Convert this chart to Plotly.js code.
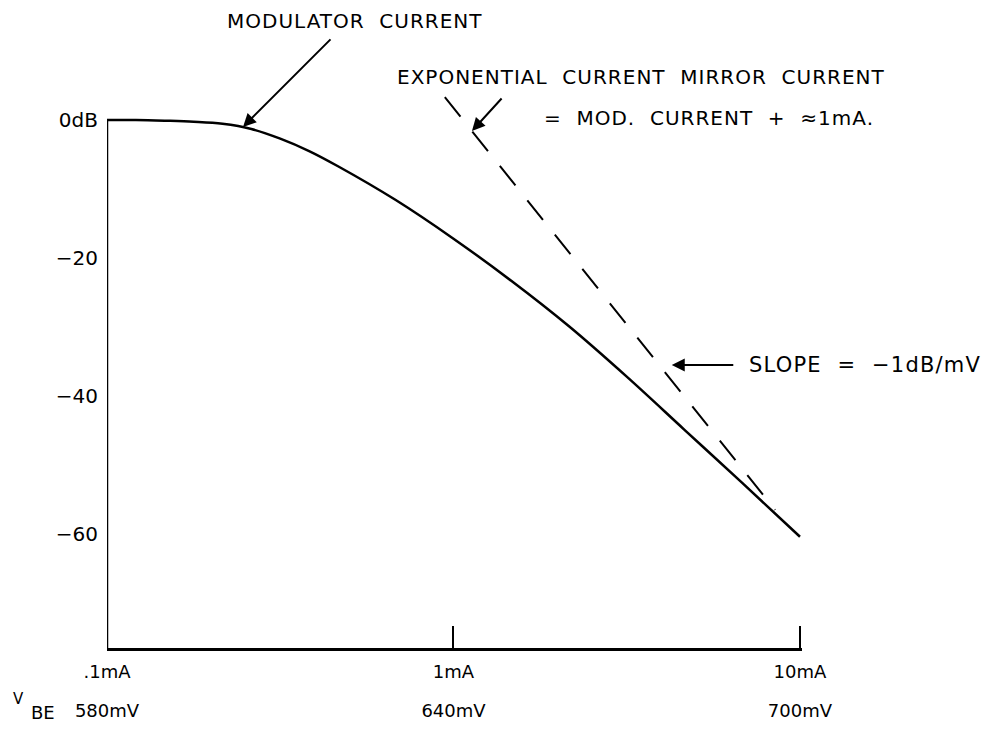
<!DOCTYPE html>
<html>
<head>
<meta charset="utf-8">
<script src="https://cdn.plot.ly/plotly-3.0.1.min.js"></script>
<style>html,body{margin:0;padding:0;background:#fff;}#chart{width:998px;height:731px;}</style>
</head>
<body>
<div id="chart"></div>
<script>
// ---- data ----
// x: V_BE in mV (log current: .1mA = 580mV, 1mA = 640mV, 10mA = 700mV)
const modVbe = [580, 585, 590, 595, 600, 605, 610, 615, 620, 630, 640, 650, 660, 670, 680, 690, 700];
const modDb  = [0, 0, -0.1, -0.25, -0.55, -1.3, -2.7, -4.5, -6.7, -11.6, -17.2, -23.3, -29.9, -37.2, -44.9, -52.6, -60.4];
// exponential current mirror current (slope -1 dB/mV)
const mirrorVbe = [638.5, 695.7];
const mirrorDb  = [3.3, -56.5];

const tickVbe = [580, 640, 700];
const tickCurrent = ['.1mA', '1mA', '10mA'];
const tickMv = ['580mV', '640mV', '700mV'];
const tickDbVals = [0, -20, -40, -60];
const tickDbText = ['0dB', '\u221220', '\u221240', '\u221260'];

// ---- layout helpers ----
const L = 107, T = 86, W = 695, H = 562;
const X0 = 580, X1 = 700.35;
const px = (x) => (x - L) / W;
const py = (y) => (T + H - y) / H;
const FONT = 'DejaVu Sans, sans-serif';
const ls = (s, sp) => '<span style="letter-spacing:' + sp + 'px">' + s + '</span>';

const traces = [
  {
    x: modVbe, y: modDb, type: 'scatter', mode: 'lines',
    line: {color: '#000', width: 2.5, shape: 'spline', smoothing: 1},
    xaxis: 'x', yaxis: 'y', hoverinfo: 'skip'
  },
  {
    x: mirrorVbe, y: mirrorDb, type: 'scatter', mode: 'lines',
    line: {color: '#000', width: 2, dash: '25px,19px'},
    xaxis: 'x2', yaxis: 'y', hoverinfo: 'skip'
  }
];

const yMax = 34 / 6.9;           // plot top above 0 dB
const yMin = yMax - H / 6.9;

const layout = {
  width: 998, height: 731,
  margin: {l: L, r: 998 - L - W, t: T, b: 731 - T - H, pad: 0},
  paper_bgcolor: '#fff', plot_bgcolor: '#fff',
  showlegend: false, hovermode: false,
  font: {family: FONT, color: '#000', size: 18},
  xaxis: {
    range: [X0, X1], showgrid: false, zeroline: false,
    showline: true, linecolor: '#000', linewidth: 2.5, mirror: false,
    ticks: 'inside', ticklen: 22, tickwidth: 2, tickcolor: '#000',
    tickmode: 'array', tickvals: tickVbe, ticktext: tickCurrent,
    tickfont: {family: FONT, size: 18, color: '#000'},
    ticklabelstandoff: 6, fixedrange: true
  },
  xaxis2: {
    range: [X0, X1], overlaying: 'x', anchor: 'y', side: 'bottom',
    showgrid: false, zeroline: false, showline: false, ticks: '',
    tickmode: 'array', tickvals: tickVbe, ticktext: tickMv,
    tickfont: {family: FONT, size: 18, color: '#000'},
    ticklabelstandoff: 50, fixedrange: true
  },
  yaxis: {
    range: [yMin, yMax], showgrid: false, zeroline: false, showline: false,
    ticks: '', tickmode: 'array', tickvals: tickDbVals, ticktext: tickDbText,
    tickfont: {family: FONT, size: 20, color: '#000'},
    ticklabelstandoff: 8, fixedrange: true
  },
  shapes: [
    {type: 'line', xref: 'x', yref: 'y', x0: 580, x1: 580, y0: 0, y1: yMin,
     line: {color: '#000', width: 2.5}}
  ],
  annotations: [
    {xref: 'paper', yref: 'paper', x: px(355), y: py(21), xanchor: 'center', yanchor: 'middle',
     text: ls('MODULATOR&nbsp;&nbsp;CURRENT', 1), showarrow: false, font: {size: 20}},
    {xref: 'paper', yref: 'paper', x: px(395), y: py(77), xanchor: 'left', yanchor: 'middle',
     text: ls('EXPONENTIAL&nbsp;&nbsp;CURRENT&nbsp;&nbsp;MIRROR&nbsp;&nbsp;CURRENT', 1), showarrow: false, font: {size: 20}},
    {xref: 'paper', yref: 'paper', x: px(542), y: py(118), xanchor: 'left', yanchor: 'middle',
     text: ls('=&nbsp;&nbsp;MOD.&nbsp;&nbsp;CURRENT&nbsp;&nbsp;+&nbsp;&nbsp;\u22481mA.', 1), showarrow: false, font: {size: 20}},
    {xref: 'paper', yref: 'paper', x: px(747), y: py(365), xanchor: 'left', yanchor: 'middle',
     text: ls('SLOPE&nbsp;&nbsp;=&nbsp;&nbsp;\u22121dB/mV', 1.2), showarrow: false, font: {size: 21}},
    {xref: 'paper', yref: 'paper', x: px(18), y: py(699), xanchor: 'center', yanchor: 'middle',
     text: 'V', showarrow: false, font: {size: 15}},
    {xref: 'paper', yref: 'paper', x: px(43), y: py(712), xanchor: 'center', yanchor: 'middle',
     text: 'BE', showarrow: false, font: {size: 18}},
    // arrows
    {xref: 'x', yref: 'y', x: 603.55, y: -1.0, ax: 89, ay: -89, text: '', showarrow: true,
     arrowhead: 2, arrowsize: 1.3, arrowwidth: 2, arrowcolor: '#000'},
    {xref: 'x', yref: 'y', x: 643.2, y: -1.6, ax: 31, ay: -34, text: '', showarrow: true,
     arrowhead: 2, arrowsize: 1.3, arrowwidth: 2, arrowcolor: '#000'},
    {xref: 'x', yref: 'y', x: 677.8, y: -35.5, ax: 63, ay: 0, text: '', showarrow: true,
     arrowhead: 2, arrowsize: 1.3, arrowwidth: 2, arrowcolor: '#000'}
  ]
};

Plotly.newPlot('chart', traces, layout, {displayModeBar: false, staticPlot: true});
</script>
</body>
</html>
